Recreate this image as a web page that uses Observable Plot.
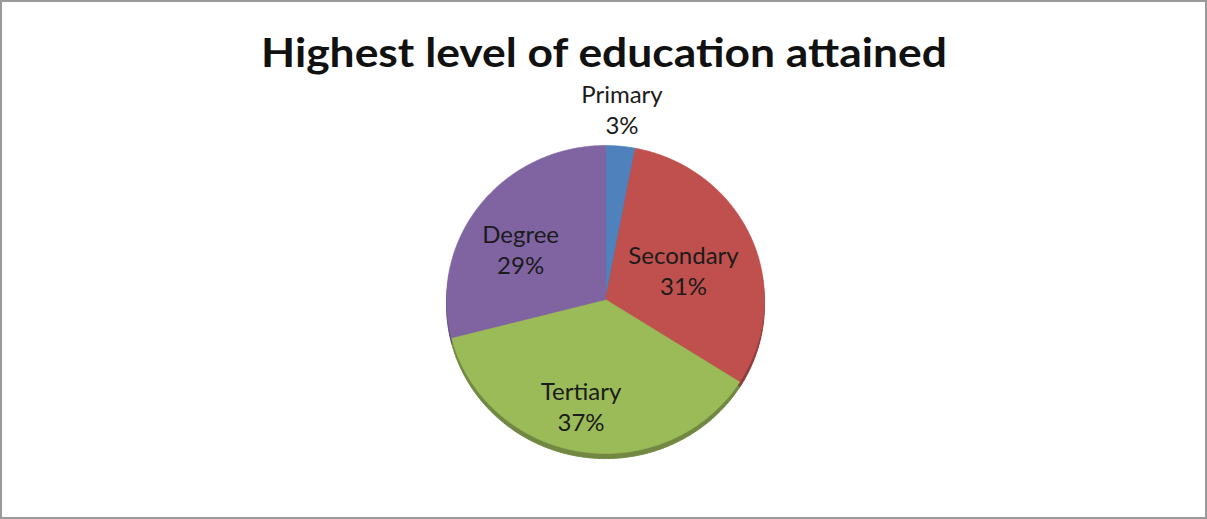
<!DOCTYPE html>
<html>
<head>
<meta charset="utf-8">
<script src="https://cdn.jsdelivr.net/npm/d3@7"></script>
<script src="https://cdn.jsdelivr.net/npm/@observablehq/plot@0.6"></script>
<style>
  html, body { margin: 0; padding: 0; background: #fff; }
  #wrap { position: relative; width: 1207px; height: 519px; overflow: hidden; }
  #border { position: absolute; left: 0; top: 0; width: 1207px; height: 519px; box-sizing: border-box;
            border: 2px solid #9a9a9a; pointer-events: none; }
</style>
</head>
<body>
<div id="wrap"><div id="border"></div></div>
<script>
const title = "Highest level of education attained";
const categories = ["Primary", "Secondary", "Tertiary", "Degree"];
const percents = [3, 31, 37, 29];
const colors = ["#4F81BD", "#C0504D", "#9BBB59", "#8064A2"];

const arcs = d3.pie().sort(null).value(d => d)(percents);

function slicePoints(a, i, yShift) {
  const pts = [{cat: categories[i], x: 0, y: yShift}];
  const n = Math.max(4, Math.ceil((a.endAngle - a.startAngle) / (Math.PI / 360)));
  for (let k = 0; k <= n; k++) {
    const t = a.startAngle + (a.endAngle - a.startAngle) * k / n;
    pts.push({cat: categories[i], x: Math.sin(t), y: Math.cos(t) + yShift});
  }
  pts.push({cat: categories[i], x: 0, y: yShift});
  return pts;
}

const topPts = arcs.flatMap((a, i) => slicePoints(a, i, 0));
const sidePts = arcs.flatMap((a, i) => slicePoints(a, i, -0.033));

// label placement: inside labels on an inner ellipse (slightly offset, as in a tilted pie),
// very small slices get an outside label
const labels = arcs.map((a, i) => {
  const mid = (a.startAngle + a.endAngle) / 2;
  const small = percents[i] < 5;
  const x = small ? Math.sin(mid) * 1.1 : -0.06 + Math.sin(mid) * 0.6;
  const y = small ? Math.cos(mid) * 1.245 : -0.06 + Math.cos(mid) * 0.636;
  return {cat: categories[i], x, y, text: `${categories[i]}\n${percents[i]}%`};
});

const sideColors = colors.map(c => d3.color(c).darker(0.9).formatHex());

const chart = Plot.plot({
  width: 1207,
  height: 519,
  margin: 0,
  style: {background: "transparent", overflow: "visible"},
  x: {domain: [-1, 1], range: [446, 764], axis: null},
  y: {domain: [-1, 1], range: [453, 145], axis: null},
  color: {domain: categories, range: colors},
  marks: [
    Plot.line(sidePts, {x: "x", y: "y", z: "cat", fill: (d) => sideColors[categories.indexOf(d.cat)], stroke: (d) => sideColors[categories.indexOf(d.cat)], strokeWidth: 1, curve: "linear"}),
    Plot.line(topPts, {x: "x", y: "y", z: "cat", fill: "cat", stroke: "cat", strokeWidth: 0.6, curve: "linear"}),
    Plot.text(labels, {x: "x", y: "y", text: "text", fontSize: 24, lineHeight: 1.3, fill: "#1b1b1b",
      fontFamily: "Lato, 'Open Sans', sans-serif", lineAnchor: "middle", textAnchor: "middle"}),
    Plot.text([title], {frameAnchor: "top", dy: 54, text: d => d, fontSize: 40, fontWeight: "bold",
      fill: "#111", fontFamily: "Lato, 'Open Sans', sans-serif", lineAnchor: "middle", className: "chart-title"})
  ]
});

document.getElementById("wrap").prepend(chart);
const t = chart.querySelector(".chart-title text");
if (t) { t.setAttribute("textLength", 686); t.setAttribute("lengthAdjust", "spacingAndGlyphs"); }
</script>
</body>
</html>
